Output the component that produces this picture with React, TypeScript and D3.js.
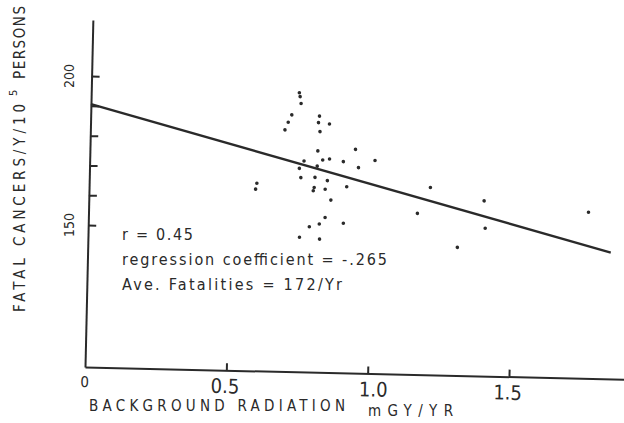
import React, { useEffect, useRef } from "react";
import * as d3 from "d3";

const W = 624;
const H = 423;

// points: background radiation (mGy/yr) vs fatal cancers / yr / 10^5
const radiation = [
  0.736, 0.739, 0.743, 0.711, 0.699, 0.688, 0.809, 0.806, 0.845, 0.812, 0.806, 0.939, 0.824, 0.848,
  0.758, 0.897, 1.009, 0.805, 0.742, 0.951, 0.748, 0.798, 0.842, 0.593, 0.589, 0.911, 0.796, 0.793,
  0.835, 0.856, 0.837, 0.817, 0.782, 0.902, 0.748, 0.819, 1.163, 1.207, 1.398, 1.404, 1.307, 1.768,
];
const fatalities = [
  196.0, 194.7, 192.4, 188.5, 186.0, 183.4, 188.3, 186.1, 185.7, 183.1, 176.6, 177.4, 173.6, 174.0,
  173.1, 173.2, 173.8, 171.5, 170.6, 171.3, 167.5, 167.7, 166.7, 165.3, 163.3, 164.8, 164.3, 163.2,
  163.8, 160.2, 154.3, 152.1, 151.1, 152.5, 147.5, 147.0, 156.4, 165.2, 161.1, 151.9, 145.3, 158.1,
];

// fitted line, two ends
const regX = [0, 1.85];
const regY = [190.6, 144.7];

const xTicks = [0.5, 1.0, 1.5];
const xTickLabels = ["0", "0.5", "1.0", "1.5"];
const xLabelValues = [0, 0.5, 1.0, 1.5];
const yTicks = [150, 160, 170, 180, 190, 200];
const yTickLabels = ["150", "200"];
const yLabelValues = [150, 200];

const statLines = ["r = 0.45", "regression coefficient = -.265", "Ave. Fatalities = 172/Yr"];
const xTitle = "BACKGROUND RADIATION";
const xUnit = "mGY/YR";

const ink = "#2a2a2a";
const font = "'DejaVu Sans Condensed', 'DejaVu Sans', sans-serif";

export default function App() {
  const ref = useRef<SVGSVGElement>(null);

  useEffect(() => {
    const svg = d3.select(ref.current);
    svg.selectAll("*").remove();

    const x = d3.scaleLinear().domain([0, 1.91]).range([85, 625]);
    const y = d3.scaleLinear().domain([102.3, 218.8]).range([367, 20]);

    // the scan is tilted a little clockwise
    const g = svg.append("g").attr("transform", "rotate(1.3,85,367)");

    g.append("g")
      .attr("transform", `translate(${x(0)},0)`)
      .call(d3.axisRight(y).tickValues(yTicks).tickSize(8).tickSizeOuter(0).tickFormat(() => ""));

    g.append("g")
      .attr("transform", `translate(0,${y(102.3)})`)
      .call(d3.axisTop(x).tickValues(xTicks).tickSize(7).tickSizeOuter(0).tickFormat(() => ""));

    g.selectAll(".domain, .tick line").attr("stroke", ink).attr("stroke-width", 2);
    g.selectAll(".tick text").remove();

    const line = d3.line<number>().x((d) => x(d)).y((_, i) => y(regY[i]));
    g.append("path")
      .attr("d", line(regX))
      .attr("fill", "none")
      .attr("stroke", ink)
      .attr("stroke-width", 2.4);

    g.append("g")
      .selectAll("circle")
      .data(radiation)
      .enter()
      .append("circle")
      .attr("cx", (d) => x(d))
      .attr("cy", (_, i) => y(fatalities[i]))
      .attr("r", 1.8)
      .attr("fill", ink);

    // x tick labels, the lone 0 is smaller
    g.append("g")
      .selectAll("text")
      .data(xLabelValues)
      .enter()
      .append("text")
      .attr("x", (d, i) => x(d) + (i === 0 ? 0 : i === 2 ? 6 : -1))
      .attr("y", (_, i) => (i === 0 ? 387 : 390))
      .attr("text-anchor", "middle")
      .attr("font-family", font)
      .attr("font-size", (_, i) => (i === 0 ? 15 : 20))
      .attr("fill", ink)
      .text((_, i) => xTickLabels[i]);

    // y tick labels, turned like the title
    svg.append("g")
      .selectAll("text")
      .data(yLabelValues)
      .enter()
      .append("text")
      .attr("transform", (d) => `translate(74,${y(d)}) rotate(-90)`)
      .attr("text-anchor", "middle")
      .attr("font-family", font)
      .attr("font-size", 14)
      .attr("fill", ink)
      .text((_, i) => yTickLabels[i]);

    // y title, with the superscript 5 set on its own
    svg.append("text")
      .attr("transform", "translate(25,312) rotate(-90)")
      .attr("font-family", font)
      .attr("font-size", 15)
      .attr("fill", ink)
      .attr("textLength", 208)
      .attr("lengthAdjust", "spacing")
      .text("FATAL CANCERS/Y/10");
    svg.append("text")
      .attr("transform", "translate(17,96) rotate(-90)")
      .attr("font-family", font)
      .attr("font-size", 11)
      .attr("fill", ink)
      .text("5");
    svg.append("text")
      .attr("transform", "translate(25,79) rotate(-90)")
      .attr("font-family", font)
      .attr("font-size", 15)
      .attr("fill", ink)
      .attr("textLength", 73)
      .attr("lengthAdjust", "spacing")
      .text("PERSONS");

    // stats block
    const statWidths = [71, 265, 220];
    svg.append("g")
      .selectAll("text")
      .data(statLines)
      .enter()
      .append("text")
      .attr("x", 122)
      .attr("y", (_, i) => 240 + i * 25)
      .attr("font-family", font)
      .attr("font-size", 16)
      .attr("fill", ink)
      .attr("textLength", (_, i) => statWidths[i])
      .attr("lengthAdjust", "spacing")
      .text((d) => d);

    svg.append("text")
      .attr("x", 89)
      .attr("y", 411)
      .attr("font-family", font)
      .attr("font-size", 15)
      .attr("fill", ink)
      .attr("textLength", 256)
      .attr("lengthAdjust", "spacing")
      .text(xTitle);

    svg.append("text")
      .attr("x", 368)
      .attr("y", 416)
      .attr("font-family", font)
      .attr("font-size", 15)
      .attr("fill", ink)
      .attr("textLength", 85)
      .attr("lengthAdjust", "spacing")
      .text(xUnit);
  }, []);

  return (
    <svg
      ref={ref}
      width={W}
      height={H}
      style={{ position: "absolute", left: 0, top: 0, background: "#fff" }}
    />
  );
}
